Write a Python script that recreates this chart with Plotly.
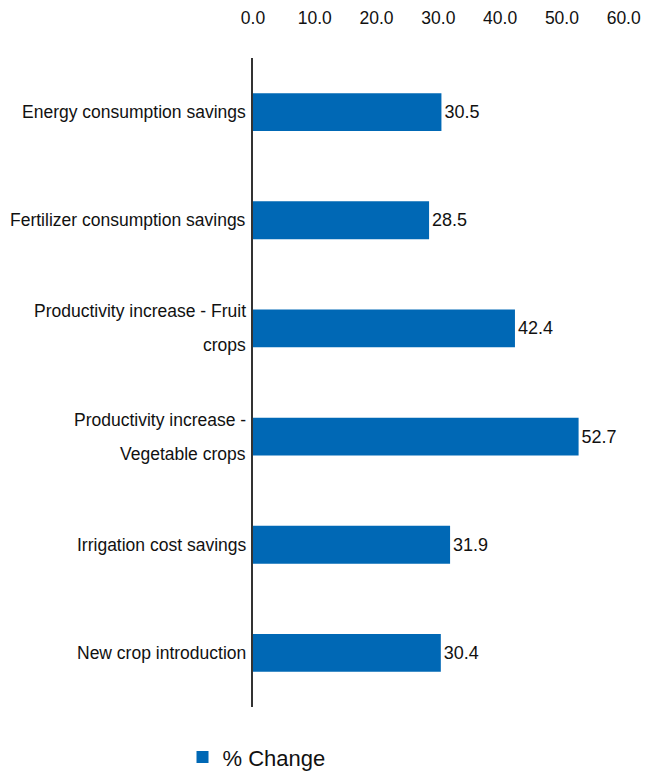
import plotly.graph_objects as go

categories = ["Energy consumption savings", "Fertilizer consumption savings",
              "Productivity increase - Fruit crops", "Productivity increase - Vegetable crops",
              "Irrigation cost savings", "New crop introduction"]
label_lines = [["Energy consumption savings"], ["Fertilizer consumption savings"],
               ["Productivity increase - Fruit", "crops"], ["Productivity increase -", "Vegetable crops"],
               ["Irrigation cost savings"], ["New crop introduction"]]
values = [30.5, 28.5, 42.4, 52.7, 31.9, 30.4]
tick_vals = [0, 10, 20, 30, 40, 50, 60]
series_name = "% Change"

FONT = "Liberation Sans, Arial, sans-serif"
BLUE = "#0068B5"
TXT = "#111111"

fig = go.Figure()
fig.add_trace(go.Bar(
    y=categories, x=values, orientation="h", name=series_name,
    marker=dict(color=BLUE, line=dict(width=0)),
    width=0.35,
    text=[f"{v:.1f}" for v in values], textposition="outside",
    textfont=dict(family=FONT, size=18, color=TXT),
    cliponaxis=False,
))

annotations = []
for cat, lines in zip(categories, label_lines):
    n = len(lines)
    for i, line in enumerate(lines):
        shift = (n - 1) * 17 - i * 34
        annotations.append(dict(
            x=0, xref="paper", xanchor="right", xshift=-5,
            y=cat, yref="y", yanchor="middle", yshift=shift,
            text=line, showarrow=False,
            font=dict(family=FONT, size=17.5, color=TXT), align="right"))

fig.update_layout(
    width=645, height=774,
    paper_bgcolor="white", plot_bgcolor="white",
    margin=dict(l=253, r=21, t=58, b=67, autoexpand=False),
    xaxis=dict(side="top", range=[0, 60.05], tickvals=tick_vals,
               ticktext=[f"{t:.1f}" for t in tick_vals], automargin=False,
               ticklabeloverflow="allow",
               showgrid=False, zeroline=False, showline=False,
               ticks="outside", ticklen=26, tickcolor="rgba(0,0,0,0)",
               tickfont=dict(family=FONT, size=17.5, color=TXT)),
    yaxis=dict(categoryorder="array", categoryarray=categories[::-1],
               showticklabels=False, showgrid=False, zeroline=False, automargin=False,
               showline=True, linecolor="#333333", linewidth=1.5, ticks=""),
    showlegend=True,
    legend=dict(orientation="h", x=-0.19, xanchor="left", y=-0.045, yanchor="top",
                font=dict(family=FONT, size=22, color=TXT), itemwidth=30),
    annotations=annotations,
)
fig.write_html("out.html", config={"displayModeBar": False},
               post_script="document.body.style.margin='0px';document.body.style.overflow='hidden';")
